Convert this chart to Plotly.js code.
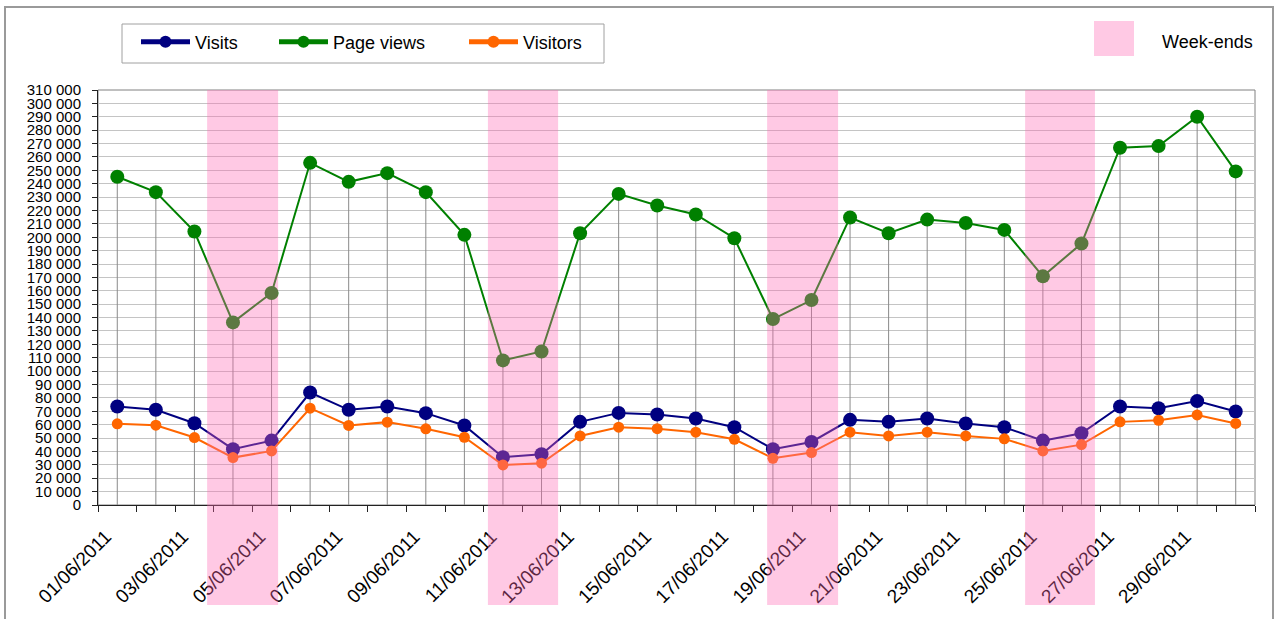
<!DOCTYPE html>
<html>
<head>
<meta charset="utf-8">
<script src="https://cdn.plot.ly/plotly-3.0.1.min.js"></script>
<style>
html,body{margin:0;padding:0;background:#ffffff;}
#chart{width:1277px;height:619px;}
</style>
</head>
<body>
<div id="chart"></div>
<script>
// ---- data ----
const dates = ['01/06/2011','02/06/2011','03/06/2011','04/06/2011','05/06/2011','06/06/2011',
  '07/06/2011','08/06/2011','09/06/2011','10/06/2011','11/06/2011','12/06/2011','13/06/2011',
  '14/06/2011','15/06/2011','16/06/2011','17/06/2011','18/06/2011','19/06/2011','20/06/2011',
  '21/06/2011','22/06/2011','23/06/2011','24/06/2011','25/06/2011','26/06/2011','27/06/2011',
  '28/06/2011','29/06/2011','30/06/2011'];
const visits = [73600, 71100, 61100, 41700, 48100, 84000, 71100, 73600, 68600, 59400,
  35700, 37900, 62100, 68800, 67600, 64600, 58100, 41700, 47100, 63600,
  62100, 64600, 60900, 58100, 48100, 53600, 73600, 72300, 77600, 69800];
const pageViews = [245200, 233700, 204300, 136400, 158400, 255600, 241400, 247900, 233700, 201800,
  108000, 114700, 203000, 232400, 223700, 217000, 199300, 138900, 153100, 214800,
  203000, 213200, 210700, 205500, 170800, 195300, 266900, 268100, 290000, 249200];
const visitors = [60600, 59600, 50400, 35400, 40400, 72300, 59400, 61900, 56900, 50600,
  29900, 31200, 51600, 58100, 57000, 54400, 49100, 34900, 39200, 54400,
  51600, 54400, 51600, 49400, 40400, 45100, 62100, 63300, 67300, 60900];
// week-end bands, in category units (1 = first day)
const weekendStart = [3.33, 10.61, 17.85, 24.54];
const weekendEnd   = [5.17, 12.43, 19.69, 26.35];
const seriesNames = ['Visits', 'Page views', 'Visitors'];
const weekendLabel = 'Week-ends';

// ---- layout geometry ----
const W = 1277, H = 619;
const M = {l: 98, r: 22, t: 90, b: 114};
const PW = W - M.l - M.r, PH = H - M.t - M.b;
const px = v => (v - M.l) / PW;          // pixel -> paper x
const py = v => (H - M.b - v) / PH;      // pixel -> paper y
const FONT = 'Liberation Sans, Arial, sans-serif';
const PINK = 'rgba(255,105,180,0.36)';

const idx = dates.map((d, i) => i + 1);
const xmin = 0.5, xmax = dates.length + 0.5;
const cat2paper = c => (c - xmin) / (xmax - xmin);
const labelIdx = idx.filter(i => i % 2 === 1 && i < dates.length);
const LABEL_SHIFT = 0.3; // rotated labels sit slightly left of their category

const traces = [
  {
    x: idx, y: pageViews, name: seriesNames[1], type: 'scatter', mode: 'lines+markers',
    line: {color: '#008000', width: 2}, marker: {color: '#008000', size: 14},
    error_y: {type: 'data', symmetric: false, array: pageViews.map(() => 0), arrayminus: pageViews,
      width: 0, thickness: 1, color: '#8a8a8a'},
    legend: 'legend2', hoverinfo: 'skip'
  },
  {
    x: idx, y: visits, name: seriesNames[0], type: 'scatter', mode: 'lines+markers',
    line: {color: '#000080', width: 2}, marker: {color: '#000080', size: 14},
    legend: 'legend', hoverinfo: 'skip'
  },
  {
    x: idx, y: visitors, name: seriesNames[2], type: 'scatter', mode: 'lines+markers',
    line: {color: '#FF6600', width: 2}, marker: {color: '#FF6600', size: 11},
    legend: 'legend3', hoverinfo: 'skip'
  }
];

const legendBase = {
  orientation: 'h', y: py(42), yanchor: 'middle', xanchor: 'left',
  bgcolor: 'rgba(0,0,0,0)', borderwidth: 0, itemwidth: 49, itemsizing: 'constant',
  font: {family: FONT, size: 18, color: '#000'}
};

const shapes = [
  // plot area frame
  {type: 'rect', xref: 'paper', yref: 'paper', x0: 0, x1: 1, y0: 0, y1: 1,
   line: {color: '#808080', width: 1}, layer: 'below'},
  // outer chart frame
  {type: 'rect', xref: 'paper', yref: 'paper', x0: px(5), x1: px(1273), y0: py(650), y1: py(7),
   line: {color: '#9a9a9a', width: 2}, layer: 'below'},
  // legend box
  {type: 'rect', xref: 'paper', yref: 'paper', x0: px(122), x1: px(604), y0: py(63), y1: py(24),
   line: {color: '#a0a0a0', width: 1}, layer: 'below'},
  // week-end legend swatch
  {type: 'rect', xref: 'paper', yref: 'paper', x0: px(1094), x1: px(1134), y0: py(56), y1: py(21),
   fillcolor: PINK, line: {width: 0}, layer: 'above'}
];
weekendStart.forEach((s, i) => {
  shapes.push({type: 'rect', xref: 'paper', yref: 'paper',
    x0: cat2paper(s), x1: cat2paper(weekendEnd[i]), y0: py(605), y1: 1,
    fillcolor: PINK, line: {width: 0}, layer: 'above'});
});

const layout = {
  width: W, height: H,
  margin: M,
  paper_bgcolor: '#ffffff', plot_bgcolor: '#ffffff',
  separators: ', ',
  font: {family: FONT, color: '#000'},
  showlegend: true,
  legend: Object.assign({}, legendBase, {x: px(136)}),
  legend2: Object.assign({}, legendBase, {x: px(274)}),
  legend3: Object.assign({}, legendBase, {x: px(464)}),
  xaxis: {
    type: 'linear', range: [xmin, xmax],
    tickmode: 'array', tickvals: labelIdx.map(i => i - LABEL_SHIFT), ticktext: labelIdx.map(i => dates[i - 1]),
    tickangle: -45, ticks: '', ticklabelstandoff: 12,
    tickfont: {family: FONT, size: 19, color: '#000'},
    showgrid: false, zeroline: false,
    showline: true, linecolor: '#222', linewidth: 1,
    minor: {tick0: 0.5, dtick: 1, ticks: 'outside', ticklen: 6, tickcolor: '#222', tickwidth: 1, showgrid: false}
  },
  yaxis: {
    range: [0, 310000], tick0: 0, dtick: 10000, tickformat: ',d',
    ticks: 'outside', ticklen: 5, tickcolor: '#222', ticklabelstandoff: 8,
    tickfont: {family: FONT, size: 15, color: '#000'},
    showgrid: true, gridcolor: '#c4c4c4', gridwidth: 1,
    zeroline: false, showline: true, linecolor: '#222', linewidth: 1
  },
  shapes: shapes,
  annotations: [
    {xref: 'paper', yref: 'paper', x: px(1160), y: py(42), xanchor: 'left', yanchor: 'middle',
     text: weekendLabel, showarrow: false, font: {family: FONT, size: 18, color: '#000'}}
  ]
};

Plotly.newPlot('chart', traces, layout, {displayModeBar: false, staticPlot: true});
</script>
</body>
</html>
